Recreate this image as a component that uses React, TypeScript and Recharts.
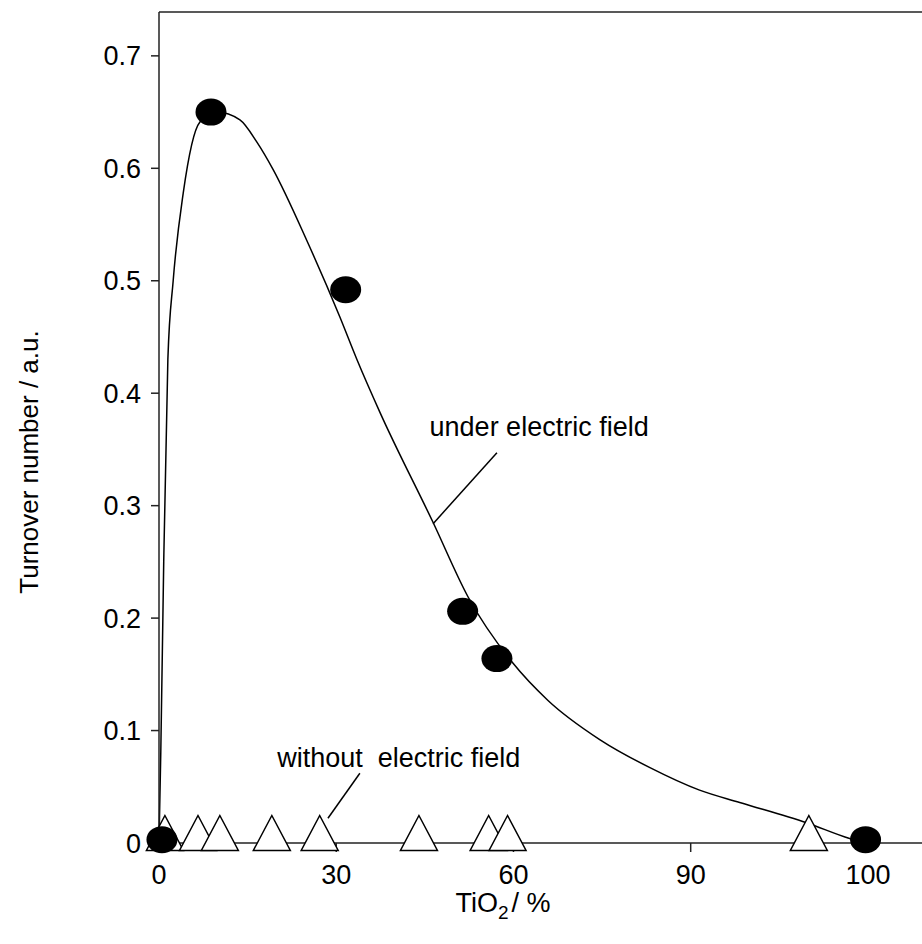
import React from 'react'
import { ComposedChart, Line, Scatter, XAxis, YAxis, ReferenceLine, ReferenceDot } from 'recharts'

// axis ticks (the last tick sits at 120 on the scale but is labelled 100)
const xTicks = [0, 30, 60, 90, 120]
const xTickLabels = ['0', '30', '60', '90', '100']
const yTicks = [0, 0.1, 0.2, 0.3, 0.4, 0.5, 0.6, 0.7]

// under electric field (filled circles)
const circleX = [0.5, 8.8, 31.6, 51.4, 57.2, 119.6]
const circleY = [0.003, 0.65, 0.492, 0.206, 0.164, 0.003]

// without electric field (open triangles)
const triangleX = [1.0, 6.6, 10.3, 19.1, 27.2, 44.0, 55.8, 59.0, 110.0]
const triangleY = [0.004, 0.004, 0.004, 0.004, 0.004, 0.004, 0.004, 0.004, 0.004]

// fitted curve through the circles
const fitX = [0, 0.3, 0.8, 1.5, 2.4, 4.1, 6.9, 9.8, 13.7, 16.6, 19.3, 25.0, 30.6, 33.5, 37.4, 46.4, 52.3, 59.9, 65.8, 74.6, 83.1, 91.5, 98.3, 109.6, 116.9, 119.6]
const fitY = [0, 0.08, 0.25, 0.43, 0.5, 0.578, 0.641, 0.65, 0.643, 0.623, 0.599, 0.536, 0.468, 0.43, 0.383, 0.285, 0.219, 0.16, 0.127, 0.092, 0.067, 0.047, 0.036, 0.018, 0.004, 0]

const circles = circleX.map((x, i) => ({ x, y: circleY[i] }))
const triangles = triangleX.map((x, i) => ({ x, y: triangleY[i] }))
const fit = fitX.map((x, i) => ({ x, y: fitY[i] }))

const FONT = 27
const INK = '#222'

const Dot = (props: any) => {
  const { cx, cy } = props
  return <ellipse cx={cx} cy={cy} rx={15.5} ry={13.5} fill="#000" />
}

const Tri = (props: any) => {
  const { cx, cy } = props
  const pts = `${cx},${cy - 23} ${cx + 18.5},${cy + 12} ${cx - 18.5},${cy + 12}`
  return <polygon points={pts} fill="#fff" stroke="#000" strokeWidth={1.5} />
}

const noteLabel = (text: string) => (props: any) => {
  const { viewBox } = props
  return (
    <text x={viewBox.x} y={viewBox.y} fontSize={FONT} fill="#000" style={{ whiteSpace: 'pre' }}>
      {text}
    </text>
  )
}

export default function App() {
  return (
    <div
      style={{
        position: 'absolute',
        left: 0,
        top: 0,
        width: 922,
        height: 944,
        overflow: 'hidden',
        background: '#fff',
        fontFamily: '"Liberation Sans", Arial, sans-serif',
      }}
    >
      <ComposedChart width={940} height={944} margin={{ top: 12, right: 13, bottom: 0, left: 0 }}>
        <XAxis
          type="number"
          dataKey="x"
          domain={[0, 130]}
          ticks={xTicks}
          tickFormatter={(v: number) => xTickLabels[xTicks.indexOf(v)]}
          tickSize={9}
          tickMargin={13}
          height={101}
          stroke={INK}
          strokeWidth={1.5}
          tick={{ fontSize: FONT, fill: '#000' }}
        />
        <YAxis
          type="number"
          dataKey="y"
          domain={[0, 0.739]}
          ticks={yTicks}
          tickFormatter={(v: number) => (v === 0 ? '0' : v.toFixed(1))}
          tickSize={8}
          tickMargin={10}
          width={159}
          stroke={INK}
          strokeWidth={1.5}
          tick={{ fontSize: FONT, fill: '#000' }}
        />
        <ReferenceLine y={0.739} stroke={INK} strokeWidth={1.5} />
        <ReferenceLine segment={[{ x: 57.2, y: 0.347 }, { x: 46.4, y: 0.284 }]} stroke="#000" strokeWidth={1.5} ifOverflow="visible" />
        <ReferenceLine segment={[{ x: 34.0, y: 0.062 }, { x: 28.6, y: 0.022 }]} stroke="#000" strokeWidth={1.5} ifOverflow="visible" />
        <ReferenceDot x={45.8} y={0.362} r={0} stroke="none" fill="none" label={noteLabel('under electric field')} />
        <ReferenceDot x={20.0} y={0.068} r={0} stroke="none" fill="none" label={noteLabel('without  electric field')} />
        <Scatter data={triangles} shape={Tri} isAnimationActive={false} />
        <Line data={fit} dataKey="y" type="monotone" stroke="#000" strokeWidth={1.5} dot={false} activeDot={false} isAnimationActive={false} />
        <Scatter data={circles} shape={Dot} isAnimationActive={false} />
        <text x={29} y={462} transform="rotate(-90 29 462)" textAnchor="middle" dy="0.35em" fontSize={26} fill="#000">
          Turnover number / a.u.
        </text>
        <text x={503} y={912} textAnchor="middle" fontSize={FONT} fill="#000">
          TiO
          <tspan dy={7} fontSize={19}>2</tspan>
          <tspan dx={3} dy={-7}>/ %</tspan>
        </text>
      </ComposedChart>
    </div>
  )
}
